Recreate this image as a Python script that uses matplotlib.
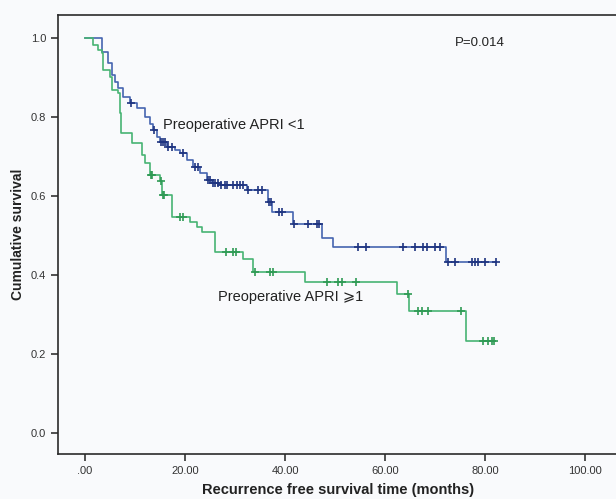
import numpy as np
import matplotlib.pyplot as plt

# Kaplan-Meier curves (months, cumulative survival)
low_times = [0, 3.4, 4.6, 5.4, 6.0, 6.6, 7.6, 9.0, 10.4, 12.0, 13.0, 13.6, 14.4, 15.0,
             16.4, 18.0, 19.0, 20.4, 21.6, 23.0, 24.4, 25.4, 27.0, 32.4, 36.6, 37.4,
             41.6, 47.4, 49.6, 72.2, 82.2]
low_surv = [1.0, 0.965, 0.937, 0.906, 0.889, 0.873, 0.851, 0.835, 0.823, 0.800, 0.782,
            0.767, 0.749, 0.737, 0.724, 0.716, 0.709, 0.691, 0.673, 0.658, 0.641, 0.633,
            0.628, 0.615, 0.585, 0.559, 0.529, 0.494, 0.471, 0.433, 0.433]
low_censor = [9.1, 13.7, 15.1, 15.6, 16.0, 16.5, 17.4, 19.6, 22.0, 22.6, 24.5, 25.0, 25.5,
              26.0, 26.6, 27.1, 28.0, 28.4, 29.6, 30.4, 31.0, 31.6, 32.5, 34.6, 35.4,
              36.7, 37.2, 38.8, 39.4, 41.7, 44.6, 46.4, 46.8, 54.6, 56.2, 63.6, 66.0,
              67.6, 68.4, 70.0, 71.0, 72.6, 74.0, 77.4, 78.0, 78.6, 80.0, 82.2]

high_times = [0, 1.6, 2.6, 3.4, 3.6, 5.0, 5.4, 6.6, 7.0, 7.2, 9.4, 11.4, 12.0, 13.0, 15.0,
              15.4, 17.4, 21.0, 22.4, 23.4, 26.0, 31.6, 33.6, 44.0, 62.4, 64.8, 76.2, 81.8]
high_surv = [1.0, 0.982, 0.970, 0.962, 0.919, 0.901, 0.868, 0.861, 0.810, 0.759, 0.734,
             0.704, 0.684, 0.653, 0.638, 0.603, 0.547, 0.534, 0.522, 0.509, 0.458, 0.441,
             0.408, 0.382, 0.352, 0.309, 0.233, 0.233]
high_censor = [13.1, 13.4, 15.1, 15.5, 15.8, 19.0, 19.6, 28.2, 29.6, 30.2, 34.0, 37.0, 37.6,
               48.4, 50.6, 51.4, 54.2, 64.6, 66.6, 67.4, 68.6, 75.2, 79.6, 80.6, 81.4, 81.8]

x_ticks = [0, 20, 40, 60, 80, 100]
x_ticklabels = [".00", "20.00", "40.00", "60.00", "80.00", "100.00"]
y_ticks = [0.0, 0.2, 0.4, 0.6, 0.8, 1.0]

BLUE = "#4664b0"
BLUE_MARK = "#1f3480"
GREEN = "#48b474"
GREEN_MARK = "#2f9a55"
BG = "#f9fafc"
FONT = ["Liberation Sans", "DejaVu Sans"]

plt.rcParams["font.family"] = FONT


def step_value(times, surv, t):
    idx = np.searchsorted(np.asarray(times), t, side="right") - 1
    return np.asarray(surv)[np.clip(idx, 0, len(surv) - 1)]


fig = plt.figure(figsize=(6.16, 4.99), dpi=100, facecolor=BG)
ax = fig.add_axes([58 / 616, 45 / 499, 560 / 616, 439 / 499])
ax.set_facecolor(BG)

ax.step(low_times, low_surv, where="post", color=BLUE, linewidth=1.2)
ax.plot(low_censor, step_value(low_times, low_surv, low_censor), linestyle="none",
        marker="+", markersize=6, markeredgewidth=1.2, color=BLUE_MARK)

ax.step(high_times, high_surv, where="post", color=GREEN, linewidth=1.2)
ax.plot(high_censor, step_value(high_times, high_surv, high_censor), linestyle="none",
        marker="+", markersize=6, markeredgewidth=1.2, color=GREEN_MARK)

ax.text(74, 0.98, "P=0.014", fontsize=9.5, color="#222222")
ax.text(15.6, 0.78, "Preoperative APRI <1", fontsize=10.5, color="#222222", va="center")
ax.text(26.6, 0.344, "Preoperative APRI ⩾1", fontsize=10.5, color="#222222", va="center")

ax.set_xlim(-5.4, 106.6)
ax.set_ylim(-0.053, 1.058)
ax.set_xticks(x_ticks)
ax.set_xticklabels(x_ticklabels)
ax.set_yticks(y_ticks)
ax.set_yticklabels([f"{v:.1f}" for v in y_ticks])
ax.tick_params(length=5, width=1.2, color="#333333", labelsize=8, labelcolor="#333333")
for side in ["left", "bottom", "top"]:
    ax.spines[side].set_color("#2b2b2b")
    ax.spines[side].set_linewidth(1.2)
ax.spines["right"].set_visible(False)

ax.set_xlabel("Recurrence free survival time (months)", fontsize=10.5, fontweight="bold",
              color="#222222", labelpad=5)
ax.set_ylabel("Cumulative survival", fontsize=10, fontweight="bold", color="#222222",
              labelpad=4)

fig.savefig("out.png", dpi=100, facecolor=BG)
